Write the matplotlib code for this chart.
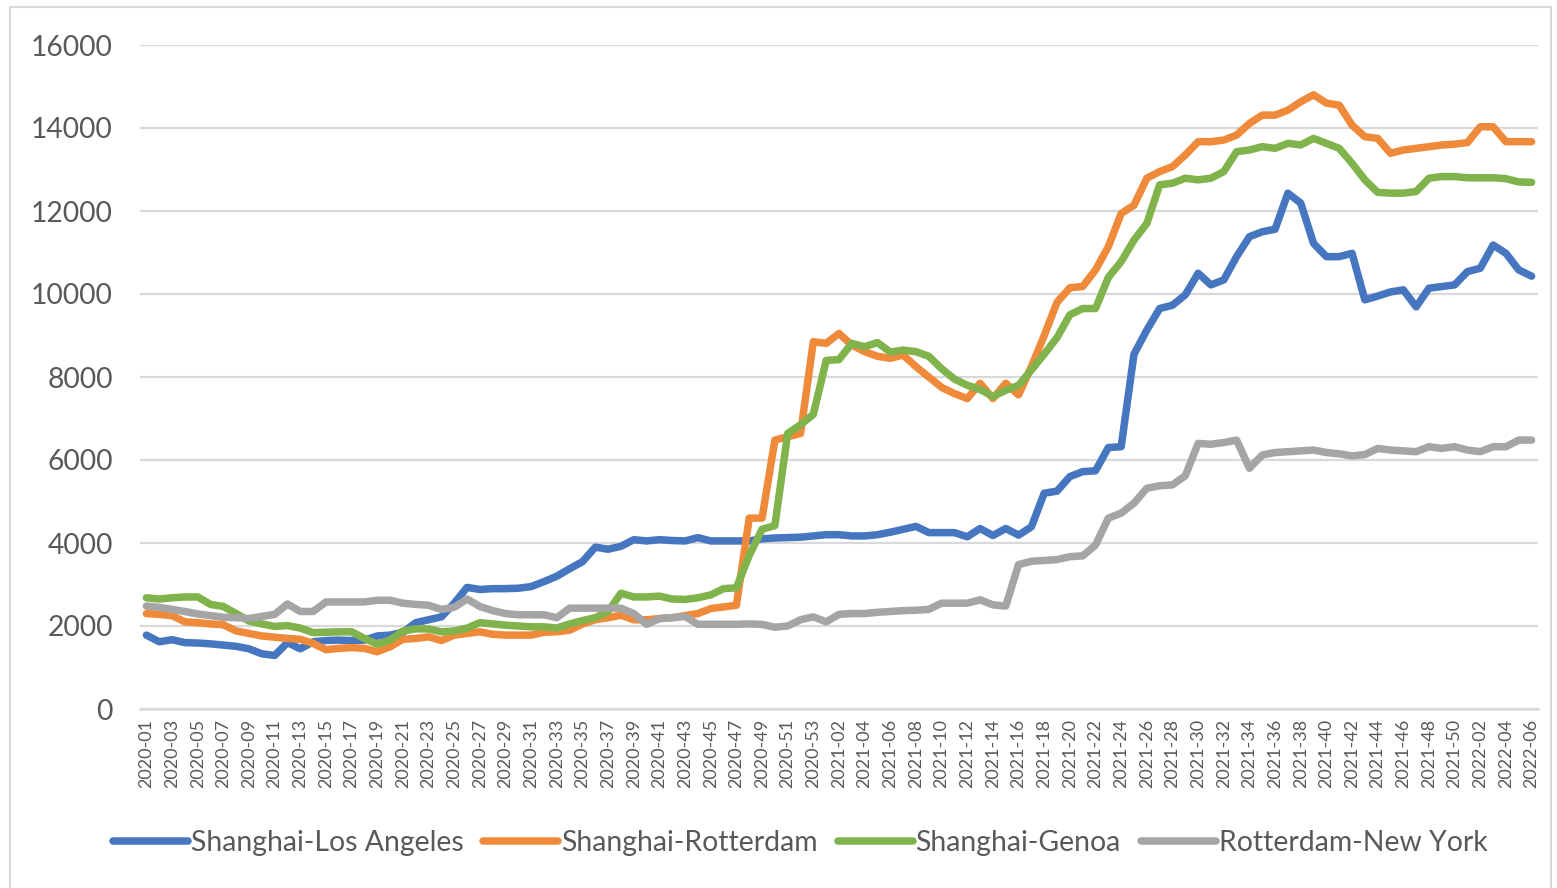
import matplotlib.pyplot as plt
from matplotlib.patches import Rectangle
import numpy as np

# weekly freight rates, 2020-01 .. 2022-06
weeks = ([f'2020-{w:02d}' for w in range(1, 54)]
         + [f'2021-{w:02d}' for w in range(1, 51)]
         + [f'2022-{w:02d}' for w in range(1, 7)])

sha_la = [1780, 1620, 1670, 1600, 1590, 1570, 1540, 1510, 1450, 1330,
          1290, 1600, 1450, 1620, 1650, 1660, 1650, 1660, 1760, 1780,
          1850, 2080, 2150, 2220, 2550, 2930, 2880, 2900, 2900, 2910,
          2950, 3070, 3200, 3380, 3550, 3900, 3850, 3920, 4080, 4050,
          4080, 4060, 4050, 4130, 4050, 4050, 4050, 4050, 4100, 4120,
          4130, 4140, 4170, 4200, 4200, 4170, 4170, 4200, 4260, 4330,
          4400, 4250, 4250, 4250, 4150, 4350, 4180, 4350, 4190, 4390,
          5200, 5250, 5600, 5720, 5740, 6300, 6320, 8550, 9130, 9650,
          9730, 9980, 10500, 10220, 10340, 10900, 11380, 11500, 11560, 12430,
          12190, 11220, 10900, 10900, 10980, 9860, 9950, 10050, 10100, 9690,
          10140, 10180, 10220, 10540, 10620, 11180, 10980, 10580, 10430]

sha_rtm = [2300, 2280, 2250, 2100, 2080, 2050, 2030, 1880, 1820, 1760,
           1730, 1700, 1680, 1580, 1430, 1460, 1480, 1460, 1380, 1500,
           1680, 1700, 1740, 1650, 1780, 1820, 1860, 1800, 1780, 1780,
           1780, 1850, 1860, 1900, 2050, 2150, 2200, 2260, 2150, 2150,
           2180, 2200, 2250, 2300, 2420, 2460, 2500, 4600, 4600, 6480,
           6560, 6640, 8850, 8810, 9050, 8770, 8610, 8500, 8450, 8530,
           8250, 8000, 7750, 7600, 7480, 7850, 7480, 7850, 7570, 8250,
           9000, 9800, 10150, 10180, 10580, 11140, 11940, 12140, 12790, 12950,
           13070, 13350, 13670, 13670, 13710, 13830, 14110, 14310, 14310, 14430,
           14630, 14800, 14600, 14550, 14070, 13790, 13750, 13390, 13470, 13510,
           13550, 13590, 13610, 13650, 14030, 14030, 13670, 13670, 13670]

sha_genoa = [2680, 2650, 2680, 2700, 2700, 2520, 2470, 2300, 2120, 2050,
             1990, 2010, 1950, 1840, 1850, 1860, 1860, 1700, 1560, 1660,
             1880, 1930, 1930, 1860, 1880, 1950, 2080, 2050, 2020, 2000,
             1980, 1980, 1950, 2050, 2130, 2200, 2350, 2790, 2700, 2700,
             2720, 2650, 2640, 2680, 2750, 2900, 2920, 3700, 4330, 4420,
             6640, 6850, 7100, 8400, 8420, 8810, 8730, 8830, 8600, 8650,
             8610, 8500, 8200, 7950, 7800, 7700, 7530, 7680, 7800, 8170,
             8550, 8950, 9500, 9650, 9650, 10400, 10780, 11300, 11700, 12630,
             12670, 12790, 12750, 12790, 12950, 13430, 13470, 13550, 13510, 13630,
             13590, 13750, 13630, 13510, 13150, 12750, 12450, 12430, 12430, 12470,
             12790, 12830, 12830, 12800, 12800, 12800, 12780, 12700, 12690]

rtm_ny = [2480, 2450, 2400, 2350, 2290, 2250, 2210, 2200, 2180, 2230,
          2280, 2530, 2350, 2350, 2580, 2580, 2580, 2580, 2620, 2620,
          2550, 2520, 2500, 2400, 2450, 2650, 2470, 2370, 2300, 2270,
          2270, 2270, 2200, 2430, 2430, 2430, 2430, 2430, 2300, 2040,
          2180, 2200, 2230, 2040, 2040, 2040, 2040, 2050, 2040, 1970,
          2000, 2150, 2220, 2100, 2280, 2300, 2300, 2330, 2350, 2370,
          2380, 2400, 2550, 2550, 2550, 2630, 2510, 2480, 3480, 3560,
          3580, 3600, 3670, 3690, 3950, 4600, 4720, 4960, 5320, 5380,
          5400, 5620, 6400, 6380, 6420, 6480, 5800, 6120, 6180, 6200,
          6220, 6240, 6180, 6150, 6100, 6130, 6280, 6240, 6220, 6200,
          6320, 6280, 6320, 6240, 6200, 6320, 6320, 6480, 6480]

routes = ['Shanghai-Los Angeles', 'Shanghai-Rotterdam', 'Shanghai-Genoa', 'Rotterdam-New York']
colors = ['#4676C0', '#F08A3B', '#80B34B', '#A5A5A5']

plt.rcParams['font.family'] = ['Lato', 'DejaVu Sans']
text_col = '#595959'
grid_col = '#D9D9D9'

fig = plt.figure(figsize=(15.57, 8.88), dpi=100)
ax = fig.add_axes([140 / 1557, 1 - 709 / 888, 1398 / 1557, 664 / 888])

x = np.arange(len(weeks))
for vals, name, c in zip([sha_la, sha_rtm, sha_genoa, rtm_ny], routes, colors):
    ax.plot(x, vals, color=c, lw=5.4, label=name,
            solid_joinstyle='round', solid_capstyle='round')

ax.set_xlim(-0.5, len(weeks) - 0.5)
ax.set_ylim(0, 16000)
ax.set_yticks(np.arange(0, 16001, 2000))
ax.yaxis.grid(True, color=grid_col, lw=1.6)
ax.set_axisbelow(True)

ax.set_xticks(x[::2])
ax.set_xticklabels(weeks[::2], rotation=90, fontsize=13, color=text_col)
ax.tick_params(axis='x', length=0, pad=7)
ax.tick_params(axis='y', length=0, pad=19.5, labelsize=20.3, labelcolor=text_col)

for s in ['top', 'right', 'left']:
    ax.spines[s].set_visible(False)
ax.spines['bottom'].set_color(grid_col)
ax.spines['bottom'].set_linewidth(1.8)

fig.legend(loc='center', bbox_to_anchor=(800 / 1557, 1 - 843 / 888), ncol=4,
           frameon=False, fontsize=20.4, labelcolor=text_col,
           handlelength=2.65, handletextpad=0.1, columnspacing=0.7)

# chart area border
fig.patches.append(Rectangle((10 / 1557, -0.02), 1541 / 1557, 1 - 7 / 888 + 0.02,
                             transform=fig.transFigure, fill=False,
                             edgecolor='#D9D9D9', lw=1.5))

fig.savefig('out.png', dpi=100)
